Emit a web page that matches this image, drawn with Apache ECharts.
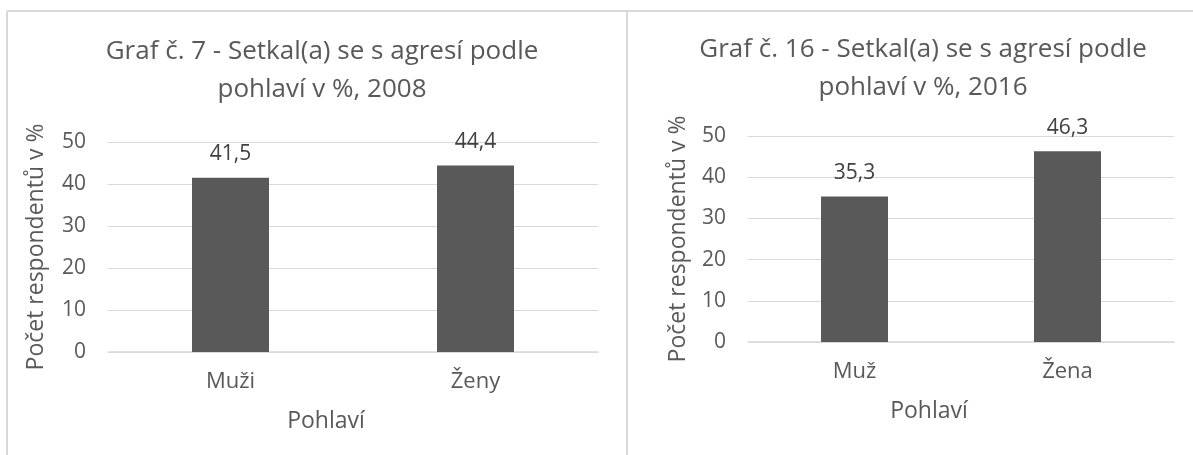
<!DOCTYPE html>
<html>
<head>
<meta charset="utf-8">
<script src="https://cdn.jsdelivr.net/npm/echarts@6/dist/echarts.min.js"></script>
<style>
  html, body { margin: 0; padding: 0; background: #ffffff; }
  #chart { width: 1193px; height: 455px; }
</style>
</head>
<body>
<div id="chart"></div>
<script>
// data
var categories2008 = ['Muži', 'Ženy']
var values2008 = [41.5, 44.4]
var categories2016 = ['Muž', 'Žena']
var values2016 = [35.3, 46.3]
var yTicks = { min: 0, max: 50, interval: 10 }

var FONT = 'Open Sans'
var gray = '#595959'
var lineGray = '#d9d9d9'

function comma (p) {
  return String(p.value).replace('.', ',')
}

function yAxis (gridIndex, nameGap) {
  return {
    type: 'value',
    gridIndex: gridIndex,
    min: yTicks.min,
    max: yTicks.max,
    interval: yTicks.interval,
    name: 'Počet respondentů v %',
    nameLocation: 'middle',
    nameRotate: 90,
    nameGap: nameGap,
    nameTextStyle: { color: gray, fontSize: 23, fontFamily: FONT },
    axisLine: { show: false },
    axisTick: { show: false },
    axisLabel: { color: gray, fontSize: 21, fontFamily: FONT, margin: 22 },
    splitLine: { lineStyle: { color: lineGray, width: 1 } }
  }
}

function xAxis (gridIndex, data, shift) {
  return {
    type: 'category',
    gridIndex: gridIndex,
    data: data,
    name: 'Pohlaví',
    nameLocation: 'middle',
    nameGap: 58,
    nameTextStyle: { color: gray, fontSize: 23, fontFamily: FONT, padding: [0, shift * 2, 0, 0] },
    axisLine: { lineStyle: { color: lineGray, width: 1.5 } },
    axisTick: { show: false },
    axisLabel: { color: gray, fontSize: 22, fontFamily: FONT, margin: 19 }
  }
}

function barSeries (idx, data, width) {
  return {
    type: 'bar',
    xAxisIndex: idx,
    yAxisIndex: idx,
    data: data,
    barWidth: width,
    itemStyle: { color: gray },
    label: {
      show: true,
      position: 'top',
      distance: 13,
      color: '#404040',
      fontSize: 21,
      fontFamily: FONT,
      formatter: comma
    },
    animation: false
  }
}

var chart = echarts.init(document.getElementById('chart'))
chart.setOption({
  animation: false,
  title: [{
    text: 'Graf č. 7 - Setkal(a) se s agresí podle\npohlaví v %, 2008',
    left: 317,
    top: 28,
    textAlign: 'center',
    textStyle: { color: gray, fontSize: 26, fontWeight: 'normal', fontFamily: FONT, lineHeight: 38 }
  }, {
    text: 'Graf č. 16 - Setkal(a) se s agresí podle\npohlaví v %, 2016',
    left: 918,
    top: 26,
    textAlign: 'center',
    textStyle: { color: gray, fontSize: 26, fontWeight: 'normal', fontFamily: FONT, lineHeight: 38 }
  }],
  grid: [
    { left: 108, top: 142, width: 490, height: 210 },
    { left: 748, top: 136, width: 426, height: 206 }
  ],
  xAxis: [xAxis(0, categories2008, 27), xAxis(1, categories2016, 32)],
  yAxis: [yAxis(0, 60), yAxis(1, 58)],
  series: [barSeries(0, values2008, 77), barSeries(1, values2016, 67)],
  // panel borders
  graphic: [
    { type: 'line', shape: { x1: 7, y1: 11, x2: 1193, y2: 11 }, style: { stroke: lineGray, lineWidth: 2 } },
    { type: 'line', shape: { x1: 7, y1: 11, x2: 7, y2: 455 }, style: { stroke: lineGray, lineWidth: 2 } },
    { type: 'line', shape: { x1: 627, y1: 11, x2: 627, y2: 455 }, style: { stroke: lineGray, lineWidth: 2 } }
  ]
})
</script>
</body>
</html>
